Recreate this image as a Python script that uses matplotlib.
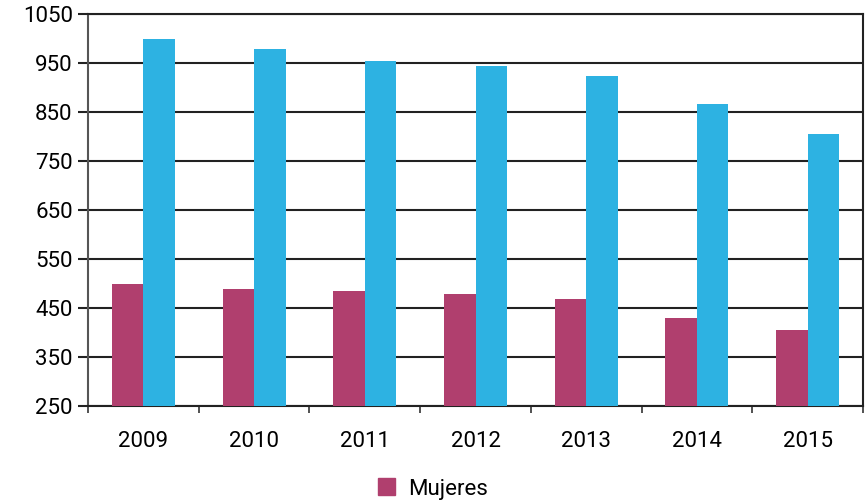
import numpy as np
import matplotlib.pyplot as plt
from matplotlib.patches import Patch

plt.rcParams['font.family'] = ['Roboto', 'DejaVu Sans']

years = ['2009', '2010', '2011', '2012', '2013', '2014', '2015']
mujeres = [500, 489, 485, 478, 468, 430, 405]
otros = [1000, 979, 954, 944, 924, 866, 806]

fig = plt.figure(figsize=(8.66, 5.04), dpi=100)
ax = fig.add_axes([88/866, 1 - 406/504, (863-88)/866, (406-14)/504])

x = np.arange(len(years))
w = 0.285
ax.bar(x - w/2, np.array(mujeres) - 250, w, bottom=250, color='#B03F6E', zorder=3)
ax.bar(x + w/2, np.array(otros) - 250, w, bottom=250, color='#2DB2E2', zorder=3)

ax.set_xlim(-0.5, len(years) - 0.5)
ax.set_ylim(250, 1050)
ax.set_yticks(np.arange(250, 1051, 100))
ax.set_xticks(x)
ax.set_xticklabels(years)
ax.set_xticks(np.arange(-0.5, len(years)), minor=True)
ax.tick_params(axis='x', which='major', length=0, pad=18, labelsize=16)
ax.tick_params(axis='x', which='minor', length=5, width=1.2, color='#333333', direction='out')
ax.tick_params(axis='y', length=7, width=1.5, color='#222222', labelsize=16, pad=4)
ax.grid(axis='y', color='#222222', linewidth=1.5, zorder=0)

for s in ['top', 'right', 'bottom']:
    ax.spines[s].set_color('#222222')
    ax.spines[s].set_linewidth(1.5)
ax.spines['left'].set_color('#555555')
ax.spines['left'].set_linewidth(1.5)
ax.spines['right'].set_visible(True)

fig.legend(handles=[Patch(color='#B03F6E', label='Mujeres')], loc='center',
           bbox_to_anchor=(433/866, 1 - 489/504), frameon=False, fontsize=16,
           handlelength=0.8, handleheight=0.8, handletextpad=0.6)

fig.savefig('out.png', dpi=100)
